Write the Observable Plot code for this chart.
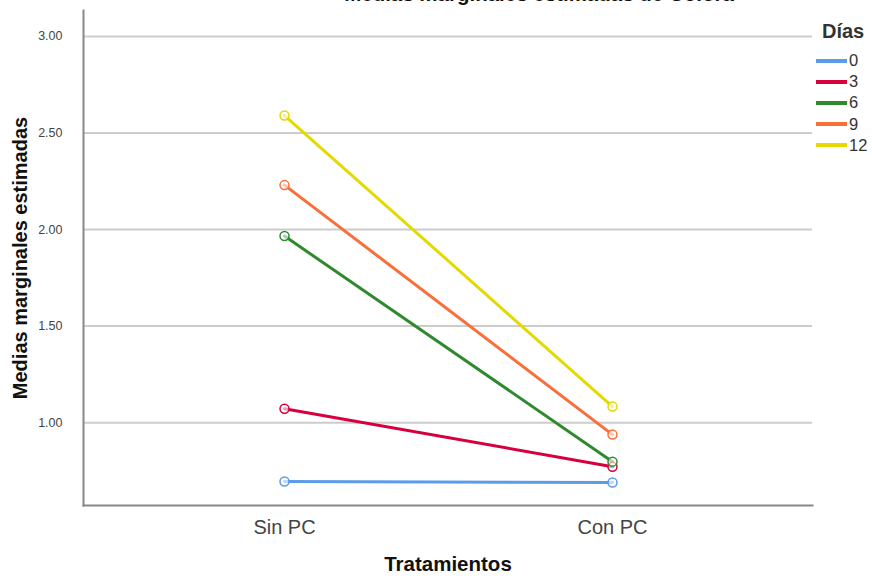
<!DOCTYPE html>
<html>
<head>
<meta charset="utf-8">
<script src="https://cdn.jsdelivr.net/npm/d3@7"></script>
<script src="https://cdn.jsdelivr.net/npm/@observablehq/plot@0.6"></script>
<style>
  html, body { margin: 0; padding: 0; background: #fff; }
  #wrap { position: relative; width: 872px; height: 576px; overflow: hidden; font-family: "Liberation Sans", Arial, sans-serif; }
  #title { position: absolute; top: -16px; left: 539px; transform: translateX(-50%); font-weight: bold; font-size: 20.5px; color: #111; white-space: nowrap; line-height: 1; }
  #legend { position: absolute; left: 816px; top: 19px; font-size: 16.5px; color: #333; }
  #legend .hd { font-weight: bold; font-size: 20px; margin-left: 6px; margin-bottom: 7px; line-height: 24px; }
  #legend .it { display: flex; align-items: center; height: 21.2px; }
  #legend .sw { width: 31px; height: 4px; margin-right: 2px; }
</style>
</head>
<body>
<div id="wrap">
  <div id="title"></div>
  <div id="legend"></div>
</div>
<script>
const titleText = "Medias marginales estimadas de Colora";
const treatments = ["Sin PC", "Con PC"];
const days = ["0", "3", "6", "9", "12"];
const colors = ["#5b9bea", "#d6003c", "#2f8a2f", "#f96f3a", "#e4d900"];
const sinPC = [0.695, 1.072, 1.966, 2.23, 2.59];
const conPC = [0.690, 0.772, 0.798, 0.938, 1.083];
const yTicks = [1.0, 1.5, 2.0, 2.5, 3.0];

const data = [];
days.forEach((d, i) => {
  data.push({dia: d, trat: treatments[0], v: sinPC[i]});
  data.push({dia: d, trat: treatments[1], v: conPC[i]});
});

const chart = Plot.plot({
  width: 872,
  height: 576,
  marginLeft: 83,
  marginRight: 60,
  marginTop: 10,
  marginBottom: 71,
  style: {fontFamily: "'Liberation Sans', Arial, sans-serif", background: "transparent"},
  x: {type: "point", domain: treatments, padding: 0.611, label: null},
  y: {domain: [0.571, 3.134], label: null},
  color: {domain: days, range: colors},
  marks: [
    Plot.gridY(yTicks, {stroke: "#cccccc", strokeOpacity: 1, strokeWidth: 2}),
    Plot.axisY(yTicks, {tickSize: 0, tickPadding: 21, tickFormat: d3.format(".2f"), fontSize: 12.5, fill: "#444", label: null}),
    Plot.axisX({tickSize: 0, tickPadding: 14, fontSize: 20, fill: "#444", label: null}),
    Plot.frame({anchor: "left", stroke: "#888", strokeWidth: 2}),
    Plot.frame({anchor: "bottom", stroke: "#888", strokeWidth: 2}),
    Plot.line(data, {x: "trat", y: "v", z: "dia", stroke: "dia", strokeWidth: 3}),
    Plot.dot(data, {x: "trat", y: "v", stroke: "dia", r: 4.5, strokeWidth: 1.5, fill: "white", fillOpacity: 0.6}),
    Plot.text(["Medias marginales estimadas"], {frameAnchor: "left", dx: -63, rotate: -90, textAnchor: "middle", fontSize: 20, fontWeight: "bold", fill: "#111"}),
    Plot.text(["Tratamientos"], {frameAnchor: "bottom", dy: 65, fontSize: 20.5, fontWeight: "bold", fill: "#111"})
  ]
});
document.getElementById("wrap").prepend(chart);
document.getElementById("title").textContent = titleText;

const lg = document.getElementById("legend");
const hd = document.createElement("div");
hd.className = "hd"; hd.textContent = "Días";
lg.appendChild(hd);
days.forEach((d, i) => {
  const it = document.createElement("div");
  it.className = "it";
  const sw = document.createElement("div");
  sw.className = "sw"; sw.style.background = colors[i];
  const t = document.createElement("span");
  t.textContent = d;
  it.appendChild(sw); it.appendChild(t);
  lg.appendChild(it);
});
</script>
</body>
</html>
